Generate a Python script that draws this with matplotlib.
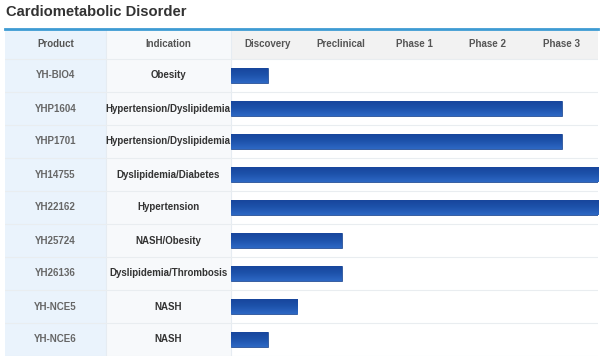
import matplotlib.pyplot as plt
import numpy as np
from matplotlib.patches import Rectangle
from matplotlib.colors import LinearSegmentedColormap

# data
products = ['YH-BIO4', 'YHP1604', 'YHP1701', 'YH14755', 'YH22162',
            'YH25724', 'YH26136', 'YH-NCE5', 'YH-NCE6']
indications = ['Obesity', 'Hypertension/Dyslipidemia', 'Hypertension/Dyslipidemia',
               'Dyslipidemia/Diabetes', 'Hypertension', 'NASH/Obesity',
               'Dyslipidemia/Thrombosis', 'NASH', 'NASH']
progress = [0.5, 4.5, 4.5, 5.0, 5.0, 1.5, 1.5, 0.9, 0.5]
phases = ['Discovery', 'Preclinical', 'Phase 1', 'Phase 2', 'Phase 3']

plt.rcParams['font.family'] = ['Liberation Sans', 'DejaVu Sans']

fig = plt.figure(figsize=(6.04, 3.6), dpi=100)
fig.text(6/604, 1 - 12/360, 'Cardiometabolic Disorder', fontsize=10.6, fontweight='bold',
         color='#333333', va='center', ha='left')

# axes covers header + rows, x from product column to end of phase 3
ax = fig.add_axes([5/604, 4/360, 593/604, 327/360])
x_prod = -3.07
x_ind = -1.70
head_top = -0.5 - 30/33
ax.set_xlim(x_prod, 5.0)
ax.set_ylim(len(products) - 0.5, head_top)
ax.axis('off')

n = len(products)
# backgrounds
ax.add_patch(Rectangle((x_prod, head_top), x_ind - x_prod, n - 0.5 - head_top,
                       facecolor='#eaf3fc', edgecolor='none', zorder=0))
ax.add_patch(Rectangle((x_ind, head_top), 0 - x_ind, n - 0.5 - head_top,
                       facecolor='#f7f9fb', edgecolor='none', zorder=0))
ax.add_patch(Rectangle((0, head_top), 5, -0.5 - head_top,
                       facecolor='#f2f2f2', edgecolor='none', zorder=0))
# column separators
for xv in [x_ind, 0]:
    ax.plot([xv, xv], [head_top, n - 0.5], color='#e6ecf2', lw=0.8, zorder=1)
# row separators
for i in range(n + 1):
    ax.plot([x_prod, 5], [i - 0.5, i - 0.5], color='#e9edf0', lw=0.8, zorder=1)
# top blue line
ax.plot([x_prod, 5], [head_top, head_top], color='#3d9bd3', lw=2, zorder=3,
        clip_on=False)

# header
hy = (head_top - 0.5) / 2
ax.text((x_prod + x_ind) / 2, hy, 'Product', ha='center', va='center',
        fontsize=7, fontweight='bold', color='#555555')
ax.text(x_ind / 2, hy, 'Indication', ha='center', va='center',
        fontsize=7, fontweight='bold', color='#555555')
for j, ph in enumerate(phases):
    ax.text(j + 0.5, hy, ph, ha='center', va='center',
            fontsize=7, fontweight='bold', color='#555555')

# rows
for i in range(n):
    ax.text((x_prod + x_ind) / 2, i, products[i], ha='center', va='center',
            fontsize=7, fontweight='bold', color='#666666')
    ax.text(x_ind / 2, i, indications[i], ha='center', va='center',
            fontsize=7, fontweight='bold', color='#333333', zorder=4)

y = np.arange(n)
bars = ax.barh(y, progress, left=0.01, height=0.48, color='#1b4fa5',
               edgecolor='#17448f', linewidth=0.5, zorder=2)

# vertical gradient inside each bar
grad = LinearSegmentedColormap.from_list('g', ['#2d68c4', '#1d52ab', '#17449a'])
for b in bars:
    x0, y0 = b.get_x(), b.get_y()
    w, h = b.get_width(), b.get_height()
    im = ax.imshow(np.linspace(0, 1, 64).reshape(-1, 1), cmap=grad, aspect='auto',
                   extent=[x0, x0 + w, y0, y0 + h], origin='upper', zorder=2.5)
    im.set_clip_path(b)

ax.set_xlim(x_prod, 5.0)
ax.set_ylim(len(products) - 0.5, head_top)

fig.savefig('out.png', dpi=100)
